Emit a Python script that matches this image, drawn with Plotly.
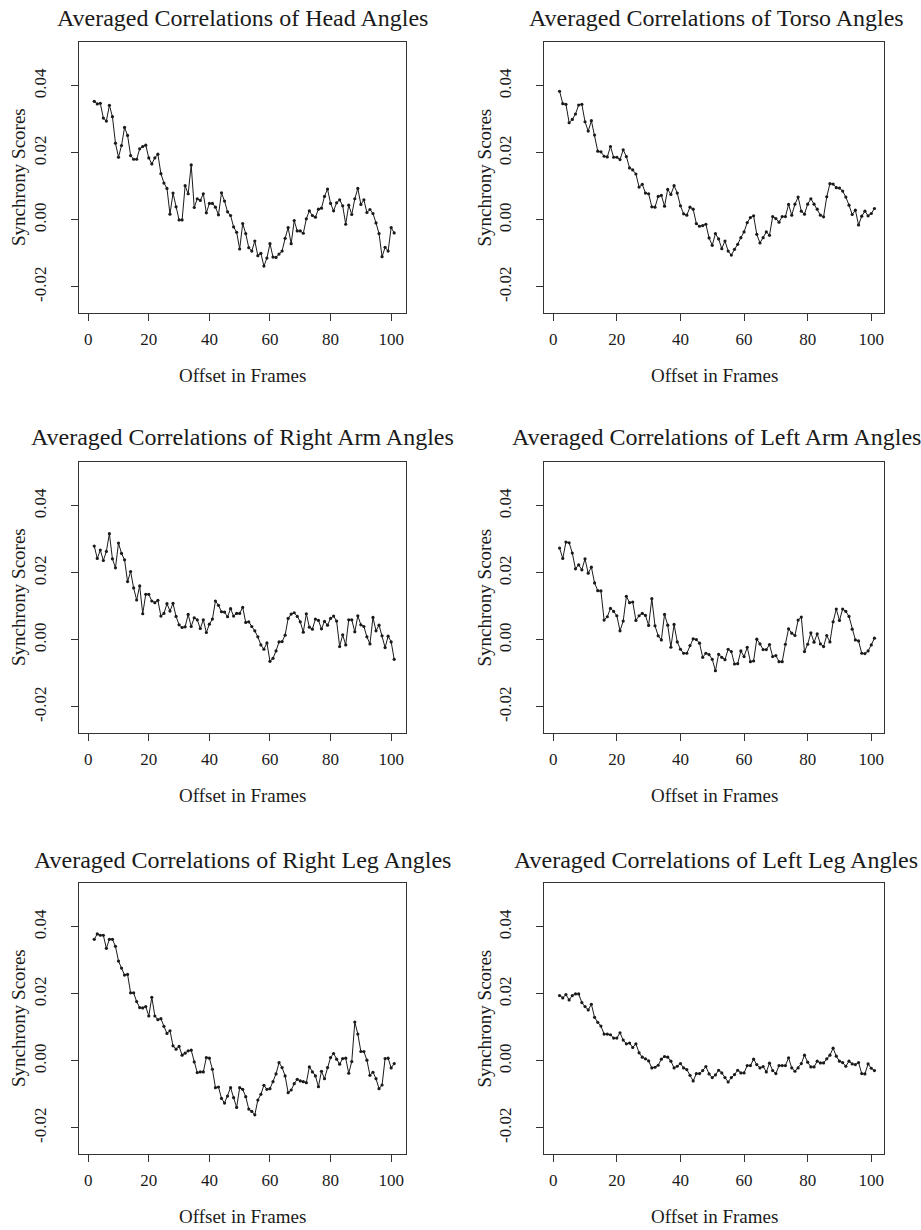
import plotly.graph_objects as go

offsets = list(range(2, 102))

titles = [
    "Averaged Correlations of Head Angles",
    "Averaged Correlations of Torso Angles",
    "Averaged Correlations of Right Arm Angles",
    "Averaged Correlations of Left Arm Angles",
    "Averaged Correlations of Right Leg Angles",
    "Averaged Correlations of Left Leg Angles",
]

head = [0.0354,0.0346,0.0348,0.0304,0.0295,0.0342,0.0308,0.0229,0.0187,0.0222,0.0276,0.0252,0.0192,0.0181,0.0181,0.0212,0.0219,0.0223,0.0185,0.0167,0.0185,0.0196,0.0138,0.0110,0.0094,0.0017,0.0080,0.0039,0.0000,0.0000,0.0102,0.0078,0.0164,0.0037,0.0063,0.0058,0.0078,0.0021,0.0049,0.0049,0.0038,0.0015,0.0081,0.0056,0.0024,0.0013,-0.0021,-0.0037,-0.0087,-0.0011,-0.0041,
        -0.0083,-0.0093,-0.0063,-0.0107,-0.0100,-0.0138,-0.0114,-0.0071,-0.0111,-0.0112,-0.0102,-0.0093,-0.0055,-0.0023,-0.0071,-0.0002,-0.0033,-0.0033,-0.0040,0.0003,0.0027,0.0013,0.0008,0.0032,0.0035,0.0070,0.0092,0.0049,0.0027,0.0051,0.0060,0.0042,-0.0013,0.0044,0.0016,0.0063,0.0094,0.0046,0.0060,0.0022,0.0031,0.0019,-0.0009,-0.0041,-0.0110,-0.0082,-0.0093,-0.0023,-0.0039]

torso = [0.0384,0.0347,0.0345,0.0290,0.0300,0.0316,0.0343,0.0345,0.0293,0.0265,0.0296,0.0253,0.0205,0.0203,0.0190,0.0188,0.0219,0.0187,0.0187,0.0180,0.0209,0.0189,0.0155,0.0149,0.0137,0.0098,0.0106,0.0080,0.0078,0.0039,0.0038,0.0070,0.0073,0.0041,0.0091,0.0076,0.0102,0.0080,0.0042,0.0018,0.0014,0.0038,0.0032,-0.0011,-0.0019,-0.0017,-0.0013,-0.0054,-0.0076,-0.0041,
         -0.0057,-0.0086,-0.0063,-0.0093,-0.0105,-0.0088,-0.0073,-0.0053,-0.0036,-0.0008,0.0007,0.0012,-0.0043,-0.0069,-0.0053,-0.0036,-0.0046,0.0010,0.0004,-0.0007,0.0010,0.0010,0.0046,0.0014,0.0047,0.0068,0.0026,0.0017,0.0047,0.0063,0.0047,0.0032,0.0014,0.0009,0.0069,0.0108,0.0107,0.0096,0.0095,0.0086,0.0068,0.0044,0.0016,0.0029,-0.0015,0.0011,0.0026,0.0012,0.0019,0.0034]

right_arm = [0.0280,0.0243,0.0268,0.0237,0.0264,0.0317,0.0242,0.0215,0.0289,0.0258,0.0239,0.0174,0.0204,0.0155,0.0119,0.0161,0.0078,0.0136,0.0136,0.0116,0.0111,0.0118,0.0071,0.0079,0.0108,0.0086,0.0109,0.0070,0.0045,0.0037,0.0039,0.0076,0.0040,0.0066,0.0060,0.0034,0.0060,0.0022,0.0047,0.0062,0.0116,0.0103,0.0084,0.0083,0.0069,0.0093,0.0071,0.0079,0.0079,0.0097,
             0.0052,0.0054,0.0040,0.0027,0.0009,-0.0015,-0.0028,-0.0009,-0.0064,-0.0055,-0.0033,-0.0006,-0.0005,0.0014,0.0064,0.0077,0.0081,0.0070,0.0054,0.0023,0.0078,0.0038,0.0032,0.0062,0.0058,0.0033,0.0055,0.0044,0.0064,0.0071,0.0056,-0.0020,0.0015,-0.0015,0.0060,0.0060,0.0024,0.0072,0.0045,0.0040,0.0009,-0.0012,0.0067,0.0027,0.0044,0.0012,-0.0023,0.0011,-0.0006,-0.0058]

left_arm = [0.0274,0.0243,0.0292,0.0290,0.0259,0.0212,0.0224,0.0209,0.0242,0.0199,0.0217,0.0170,0.0147,0.0146,0.0059,0.0069,0.0094,0.0085,0.0072,0.0027,0.0056,0.0130,0.0111,0.0113,0.0058,0.0072,0.0079,0.0073,0.0043,0.0123,0.0042,0.0012,0.0000,0.0076,0.0044,-0.0022,0.0046,-0.0006,-0.0028,-0.0040,-0.0040,-0.0017,0.0003,0.0001,-0.0010,-0.0052,-0.0040,-0.0044,-0.0058,
            -0.0092,-0.0043,-0.0052,-0.0059,-0.0028,-0.0035,-0.0072,-0.0071,-0.0033,-0.0050,-0.0022,-0.0065,-0.0063,0.0002,-0.0012,-0.0029,-0.0029,-0.0014,-0.0050,-0.0047,-0.0065,-0.0065,-0.0013,0.0033,0.0020,0.0013,0.0059,0.0068,-0.0035,-0.0013,0.0021,-0.0007,0.0018,-0.0012,-0.0020,0.0013,-0.0006,0.0054,0.0092,0.0058,0.0092,0.0085,0.0070,0.0032,0.0000,-0.0003,-0.0040,-0.0041,-0.0033,-0.0015,0.0005]

right_leg = [0.0363,0.0379,0.0375,0.0375,0.0336,0.0363,0.0363,0.0342,0.0298,0.0277,0.0256,0.0258,0.0203,0.0203,0.0177,0.0159,0.0158,0.0162,0.0134,0.0190,0.0134,0.0123,0.0126,0.0103,0.0082,0.0090,0.0045,0.0035,0.0043,0.0017,0.0023,0.0030,0.0032,-0.0003,-0.0035,-0.0033,-0.0033,0.0010,0.0008,-0.0025,-0.0080,-0.0078,-0.0112,-0.0126,-0.0105,-0.0080,-0.0110,-0.0139,-0.0080,-0.0085,
             -0.0107,-0.0144,-0.0151,-0.0161,-0.0117,-0.0100,-0.0073,-0.0085,-0.0083,-0.0062,-0.0039,-0.0005,-0.0020,-0.0045,-0.0095,-0.0087,-0.0068,-0.0055,-0.0060,-0.0062,-0.0065,-0.0018,-0.0033,-0.0045,-0.0077,-0.0031,-0.0053,-0.0020,0.0010,0.0022,0.0005,-0.0010,0.0007,0.0008,-0.0037,-0.0002,0.0116,0.0080,0.0028,0.0028,0.0002,-0.0043,-0.0034,-0.0053,-0.0083,-0.0072,0.0007,0.0008,-0.0021,-0.0008]

left_leg = [0.0195,0.0188,0.0198,0.0182,0.0195,0.0200,0.0200,0.0174,0.0162,0.0152,0.0169,0.0130,0.0115,0.0104,0.0080,0.0080,0.0078,0.0068,0.0068,0.0084,0.0062,0.0051,0.0053,0.0040,0.0051,0.0024,0.0011,0.0006,0.0000,-0.0021,-0.0019,-0.0013,0.0005,0.0013,0.0011,-0.0001,-0.0021,-0.0016,-0.0008,-0.0021,-0.0026,-0.0043,-0.0060,-0.0038,-0.0038,-0.0029,-0.0017,-0.0039,-0.0050,-0.0042,
            -0.0028,-0.0036,-0.0050,-0.0063,-0.0050,-0.0041,-0.0028,-0.0036,-0.0036,-0.0014,-0.0014,0.0005,-0.0011,-0.0021,-0.0017,-0.0033,-0.0007,-0.0029,-0.0038,-0.0014,-0.0014,-0.0014,0.0009,-0.0021,-0.0031,-0.0021,-0.0008,0.0017,-0.0004,-0.0018,-0.0018,-0.0001,-0.0006,-0.0006,0.0006,0.0017,0.0038,0.0014,-0.0001,-0.0005,-0.0016,-0.0001,-0.0009,-0.0011,-0.0005,-0.0038,-0.0039,-0.0009,-0.0022,-0.0029]

series = [head, torso, right_arm, left_arm, right_leg, left_leg]

x_tick_vals = [0, 20, 40, 60, 80, 100]
y_tick_vals = [-0.02, 0.00, 0.02, 0.04]
y_tick_text = ["-0.02", "0.00", "0.02", "0.04"]
x_title = "Offset in Frames"
y_title = "Synchrony Scores"

W, H = 921, 1230
FONT = "Liberation Serif, Times New Roman, serif"
INK = "#1a1a1a"

# pixel layout of the plot boxes
col_px = [(78.5, 405.7), (544.0, 884.0)]
col_xrange = [[-3.2, 104.8], [-2.9, 104.0]]
row_px = [(42.0, 313.0), (462.0, 733.0), (883.0, 1154.0)]
title_px = [18, 437, 860]
title_cx = [242, 716]
y_range = [-0.0278, 0.0531]

fig = go.Figure()
annotations = []
for i, vals in enumerate(series):
    r, c = divmod(i, 2)
    x0, x1 = col_px[c]
    top, bot = row_px[r]
    n = "" if i == 0 else str(i + 1)
    fig.add_trace(go.Scatter(
        x=offsets[:len(vals)], y=vals, mode="lines+markers",
        line=dict(color=INK, width=1),
        marker=dict(color=INK, size=3.2),
        xaxis="x" + n, yaxis="y" + n, showlegend=False,
        hoverinfo="x+y",
    ))
    axis_common = dict(
        showline=True, mirror=True, linecolor="#333", linewidth=1,
        showgrid=False, zeroline=False, ticks="outside", ticklen=7,
        tickwidth=1, tickcolor="#333",
        tickfont=dict(family=FONT, size=17, color=INK),
    )
    fig.layout["xaxis" + n] = dict(
        domain=[x0 / W, x1 / W], range=col_xrange[c], anchor="y" + n,
        tickvals=x_tick_vals, ticklabelstandoff=4, **axis_common)
    fig.layout["yaxis" + n] = dict(
        domain=[1 - bot / H, 1 - top / H], range=y_range, anchor="x" + n,
        tickvals=y_tick_vals, ticktext=y_tick_text, tickangle=-90,
        ticklabelstandoff=18, **axis_common)
    cx = (x0 + x1) / 2
    annotations.append(dict(
        text=titles[i], x=title_cx[c] / W, y=1 - title_px[r] / H, xref="paper",
        yref="paper", showarrow=False, xanchor="center", yanchor="middle",
        font=dict(family=FONT, size=24, color=INK)))
    annotations.append(dict(
        text=x_title, x=cx / W, y=1 - (bot + 62) / H, xref="paper",
        yref="paper", showarrow=False, xanchor="center", yanchor="middle",
        font=dict(family=FONT, size=19, color=INK)))
    annotations.append(dict(
        text=y_title, x=(x0 - 60) / W, y=1 - ((top + bot) / 2) / H,
        xref="paper", yref="paper", showarrow=False, textangle=-90,
        xanchor="center", yanchor="middle",
        font=dict(family=FONT, size=19, color=INK)))

fig.update_layout(
    width=W, height=H, margin=dict(l=0, r=0, t=0, b=0),
    paper_bgcolor="white", plot_bgcolor="white",
    annotations=annotations, showlegend=False,
)

fig.write_html("out.html")
